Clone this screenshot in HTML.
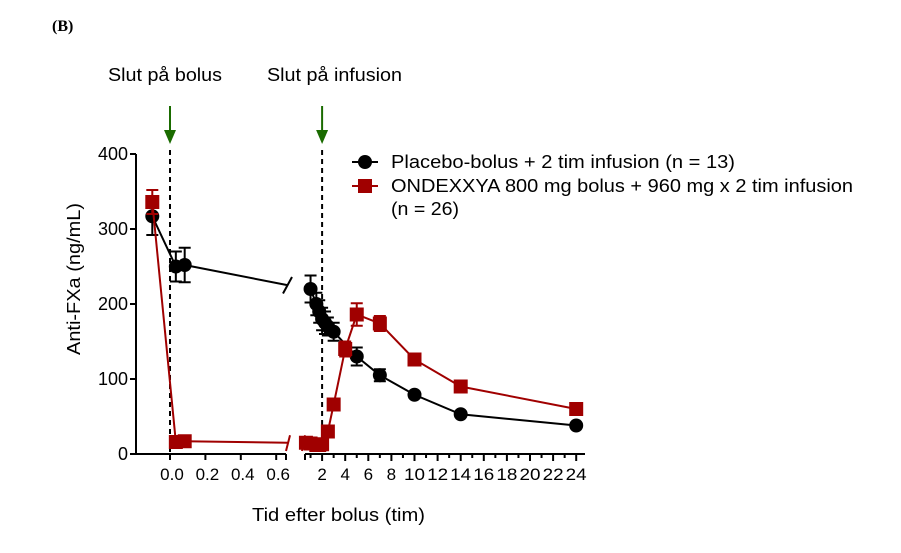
<!DOCTYPE html>
<html><head><meta charset="utf-8"><style>
body{margin:0;background:#fff;}
svg text{font-family:"Liberation Sans",Arial,sans-serif;}
</style></head><body>
<svg id="c" width="901" height="548" xmlns="http://www.w3.org/2000/svg">
<text x="52" y="31" font-family="Liberation Serif" font-weight="bold" font-size="16" style="font-family:'Liberation Serif',serif">(B)</text>
<text x="108" y="81" font-size="18" textLength="114" lengthAdjust="spacingAndGlyphs">Slut på bolus</text>
<text x="267" y="81" font-size="18" textLength="135" lengthAdjust="spacingAndGlyphs">Slut på infusion</text>
<text transform="translate(80,279) rotate(-90)" font-size="18" text-anchor="middle" textLength="152" lengthAdjust="spacingAndGlyphs">Anti-FXa (ng/mL)</text>
<text x="252" y="521" font-size="18" textLength="173" lengthAdjust="spacingAndGlyphs">Tid efter bolus (tim)</text>
<g id="axes"></g><g id="marks"></g>
<g>
<line x1="352" y1="162" x2="378" y2="162" stroke="#000" stroke-width="2"/><circle cx="365" cy="162" r="7" fill="#000"/>
<text x="391" y="168" font-size="18" textLength="344" lengthAdjust="spacingAndGlyphs">Placebo-bolus + 2 tim infusion (n = 13)</text>
<line x1="352" y1="186" x2="378" y2="186" stroke="#a00000" stroke-width="2"/><rect x="358" y="179" width="14" height="14" fill="#a00000"/>
<text x="391" y="192" font-size="18" textLength="462" lengthAdjust="spacingAndGlyphs">ONDEXXYA 800 mg bolus + 960 mg x 2 tim infusion</text>
<text x="391" y="215" font-size="18" textLength="68" lengthAdjust="spacingAndGlyphs">(n = 26)</text>
</g>
</svg>
<script>
const yTicks=[0,100,200,300,400];
const leftTicks=[0.0,0.2,0.4,0.6];
const rightTicks=[2,4,6,8,10,12,14,16,18,20,22,24];
const pLeftX=[-0.1,0.033,0.083];
const pLeftY=[317,250,252];
const pLeftErr=[25,20,23];
const pRightX=[1,1.5,1.75,2,2.25,2.5,3,5,7,10,14,24];
const pRightY=[220,200,190,180,175,170,163,130,105,79,53,38];
const pRightErr=[18,15,15,15,15,12,12,12,8,4,3,3];
const oLeftX=[-0.1,0.033,0.083];
const oLeftY=[336,16,17];
const oLeftErr=[16,2,2];
const oRightX=[0.6,1,1.5,1.75,2,2.5,3,4,5,7,10,14,24];
const oRightY=[15,14,12,12,13,30,66,140,186,174,126,90,60];
const oRightErr=[2,2,2,2,2,3,4,10,15,10,5,3,3];
const NS="http://www.w3.org/2000/svg";
const yS=v=>454-v*0.75;
const xL=v=>170+v*177;
const xR=v=>299+v*11.55;
const ax=document.getElementById('axes'),mk=document.getElementById('marks');
function el(p,t,a){const e=document.createElementNS(NS,t);for(const k in a)e.setAttribute(k,a[k]);p.appendChild(e);return e;}
el(ax,'line',{x1:136,y1:154,x2:136,y2:455,stroke:'#000','stroke-width':2});
yTicks.forEach(v=>{el(ax,'line',{x1:130,y1:yS(v),x2:136,y2:yS(v),stroke:'#000','stroke-width':2});
const t=el(ax,'text',{x:128,y:yS(v)+6,'font-size':18,'text-anchor':'end'});t.textContent=v;

});
el(ax,'line',{x1:135,y1:454,x2:286,y2:454,stroke:'#000','stroke-width':2});
leftTicks.forEach(v=>{el(ax,'line',{x1:xL(v),y1:454,x2:xL(v),y2:460,stroke:'#000','stroke-width':2});
const t=el(ax,'text',{x:xL(v)+2,y:480,'font-size':17,'text-anchor':'middle'});t.textContent=v.toFixed(1);

});
el(ax,'line',{x1:286,y1:454,x2:286,y2:460,stroke:'#000','stroke-width':2});
el(ax,'line',{x1:305,y1:454,x2:585,y2:454,stroke:'#000','stroke-width':2});
for(let h=1;h<=24;h++){const big=h%2==0;el(ax,'line',{x1:xR(h),y1:454,x2:xR(h),y2:big?461:458,stroke:'#000','stroke-width':2});}
el(ax,'line',{x1:305,y1:454,x2:305,y2:460,stroke:'#000','stroke-width':2});
rightTicks.forEach(v=>{const t=el(ax,'text',{x:xR(v),y:480,'font-size':17,'text-anchor':'middle'});t.textContent=v;
if(v>=10){t.setAttribute('textLength','21');t.setAttribute('lengthAdjust','spacingAndGlyphs');}

});
[[xL(0)],[xR(2)]].forEach(([x])=>{el(ax,'line',{x1:x,y1:150,x2:x,y2:454,stroke:'#000','stroke-width':2,'stroke-dasharray':'5,4'});
el(ax,'line',{x1:x,y1:106,x2:x,y2:136,stroke:'#1a6b00','stroke-width':2});
el(ax,'path',{d:`M${x-6} 130 L${x+6} 130 L${x} 144 Z`,fill:'#1a6b00'});});
function series(xs,ys,es,xf,col,sq,name){
let d='';xs.forEach((x,i)=>{d+=(i?'L':'M')+xf(x)+' '+yS(ys[i]);});
el(mk,'path',{d:d,fill:'none',stroke:col,'stroke-width':2});
xs.forEach((x,i)=>{const cx=xf(x),cy=yS(ys[i]),e=es[i]*0.75;
el(mk,'path',{d:`M${cx} ${cy-e}V${cy+e}M${cx-6} ${cy-e}H${cx+6}M${cx-6} ${cy+e}H${cx+6}`,stroke:col,'stroke-width':2,fill:'none'});
const m=sq?el(mk,'rect',{x:cx-7,y:cy-7,width:14,height:14,fill:col}):el(mk,'circle',{cx:cx,cy:cy,r:7,fill:col});

});}
const blk='#000',red='#a00000';
el(mk,'path',{d:`M${xL(0.083)} ${yS(252)} L288 ${yS(225)} M283 ${yS(214)} L292 ${yS(236)}`,stroke:blk,'stroke-width':2,fill:'none'});
el(mk,'path',{d:`M${xL(0.083)} ${yS(17)} L288 ${yS(15)} M286 ${yS(4)} L290 ${yS(25)} M302 ${yS(4)} L305 ${yS(25)}`,stroke:red,'stroke-width':2,fill:'none'});
series(pLeftX,pLeftY,pLeftErr,xL,blk,false,'placebo-point');
series(pRightX,pRightY,pRightErr,xR,blk,false,'placebo-point');
series(oLeftX,oLeftY,oLeftErr,xL,red,true,'ondexxya-point');
series(oRightX,oRightY,oRightErr,xR,red,true,'ondexxya-point');
</script>
</body></html>
